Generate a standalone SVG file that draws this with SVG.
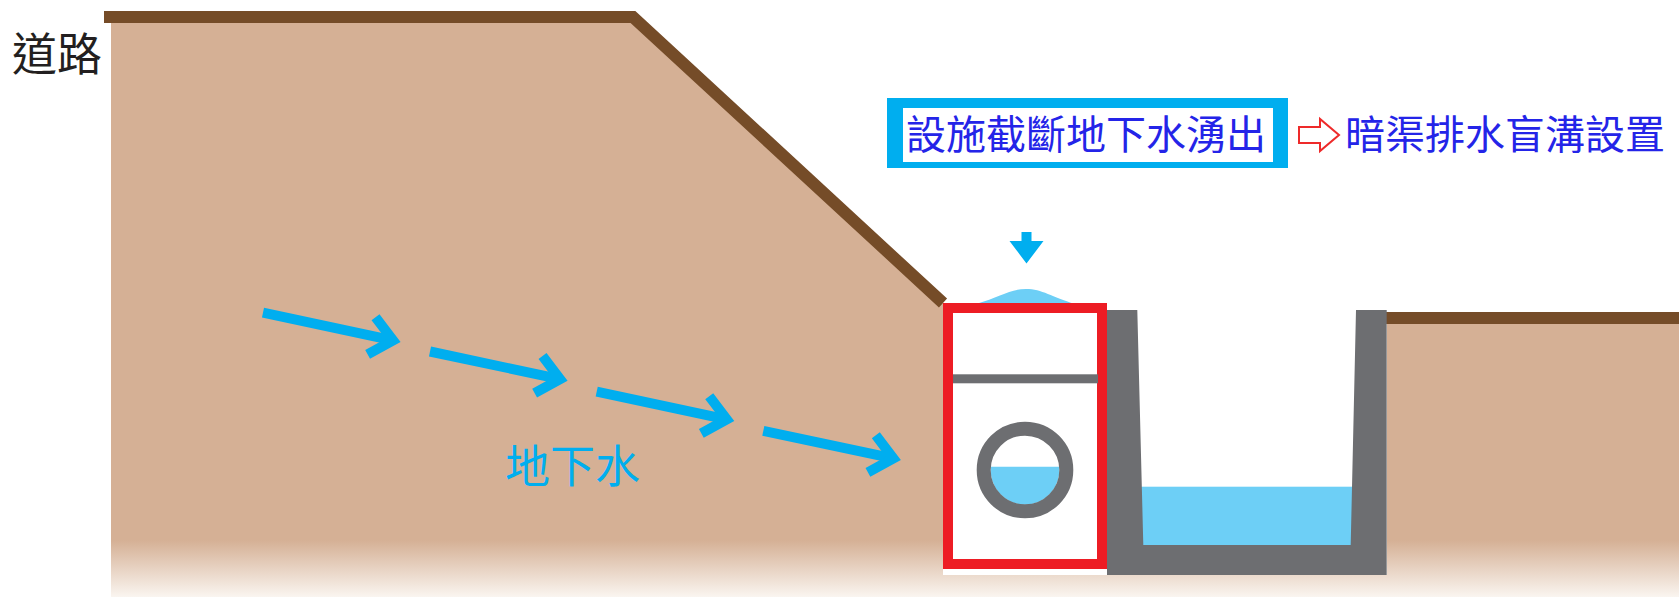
<svg xmlns="http://www.w3.org/2000/svg" xmlns:xlink="http://www.w3.org/1999/xlink" width="1679" height="597" viewBox="0 0 1679 597">
  <defs>
    <linearGradient id="soil" gradientUnits="userSpaceOnUse" x1="0" y1="0" x2="0" y2="597">
      <stop offset="0" stop-color="#d5b095"/>
      <stop offset="0.905" stop-color="#d5b095"/>
      <stop offset="1" stop-color="#faf5f0"/>
    </linearGradient>
    <!-- one groundwater arrow, drawn along +x from its tail -->
    <g id="flow">
      <line x1="0" y1="0" x2="128" y2="0"/>
      <polyline points="111,-19 133,0 111,19"/>
    </g>
    <style>
      .edge { fill: none; stroke: #754c28; stroke-width: 12; stroke-linejoin: miter; }
      .flow { fill: none; stroke: #00aeef; stroke-width: 10; stroke-linejoin: miter; stroke-miterlimit: 10; }
      .concrete { fill: #6d6e71; }
      .water { fill: #6dcff6; }
      .cjk { font-family: "Noto Sans CJK TC", "Noto Sans CJK SC", "Noto Sans", sans-serif; }
      .note { font-size: 40px; fill: #2424e8; }
    </style>
  </defs>

  <!-- ground body with fading base -->
  <path d="M111,17 H633 L943,303 V575 H1387 V318 H1679 V597 H111 Z" fill="url(#soil)"/>

  <!-- ground surface lines -->
  <polyline class="edge" points="104,17 633,17 943,303"/>
  <line class="edge" x1="1386" y1="318" x2="1679" y2="318" stroke-width="11.7"/>

  <text class="cjk" x="12" y="70.5" font-size="45" fill="#231f20">道路</text>

  <!-- groundwater seeping out on top of the drain -->
  <path class="water" d="M976,304 C1000,297 1010,289 1026,289 C1042,289 1052,297 1075,304 Z"/>

  <!-- blind drain (暗渠) -->
  <g id="blind-drain">
    <rect x="948" y="308" width="154" height="256" fill="#ffffff" stroke="#ed1c24" stroke-width="10"/>
    <rect class="concrete" x="953" y="374.3" width="145" height="9"/>
    <path class="water" d="M990.9,466.7 A34.3,34.3 0 1 0 1059.1,466.7 Z"/>
    <circle cx="1025" cy="470" r="41.3" fill="none" stroke="#6d6e71" stroke-width="14"/>
  </g>

  <!-- open channel -->
  <g id="channel">
    <rect class="water" x="1138" y="486.7" width="218" height="60"/>
    <path class="concrete" d="M1107,310 H1137.3 L1143.3,545 H1350.7 L1356,310 H1386.7 V575 H1107 Z"/>
  </g>

  <!-- label box -->
  <g id="label-intercept">
    <rect x="887" y="98" width="401" height="70" fill="#00aeef"/>
    <rect x="903" y="108" width="370" height="54" fill="#ffffff"/>
    <text class="cjk note" x="906" y="148.5">設施截斷地下水湧出</text>
  </g>

  <g id="label-drain">
    <path d="M1299,127 H1320 V119 L1339,135 L1320,151 V143 H1299 Z" fill="#ffffff" stroke="#ee2a2a" stroke-width="2"/>
    <text class="cjk note" x="1345" y="148.5">暗渠排水盲溝設置</text>
  </g>

  <g id="connectors">
    <!-- downward pointer to the seepage -->
    <path d="M1021.5,232 H1031.5 V241 H1043.5 L1026.5,263.5 L1009.5,241 H1021.5 Z" fill="#00aeef"/>
    <!-- groundwater flow -->
    <g class="flow">
      <use xlink:href="#flow" transform="translate(263,312.7) rotate(12)"/>
      <use xlink:href="#flow" transform="translate(430,351.5) rotate(12)"/>
      <use xlink:href="#flow" transform="translate(596.7,391.7) rotate(12)"/>
      <use xlink:href="#flow" transform="translate(763.3,430.8) rotate(12)"/>
    </g>
  </g>

  <text class="cjk" x="505" y="483" font-size="45" fill="#00aeef">地下水</text>
</svg>
